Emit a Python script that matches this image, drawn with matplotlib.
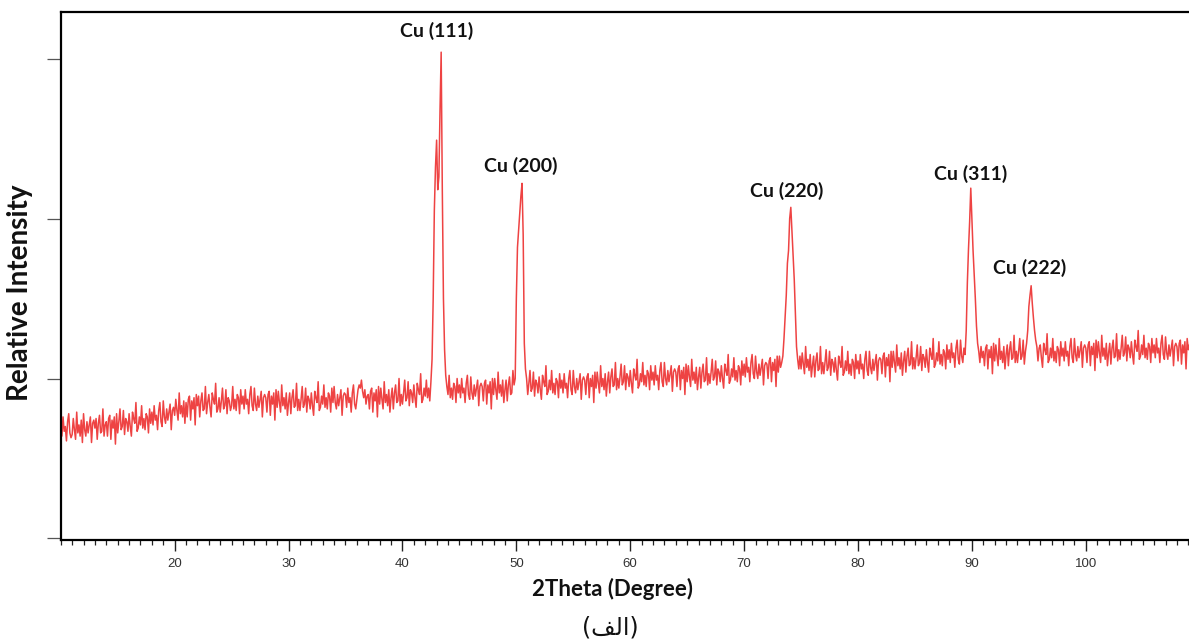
"""XRD pattern of the Cu coating (figure "alef"), redrawn from the published plot."""
import matplotlib
matplotlib.use("Agg")
import matplotlib.pyplot as plt
from matplotlib.ticker import MultipleLocator
import numpy as np

# Scan grid: 2theta from 10 deg in 0.1 deg steps (one row below = one degree).
SCAN_START = 10.0
SCAN_STEP = 0.1

# Intensity (arbitrary units), 10-29.9 deg
counts_10_30 = [
    72, 64, 76, 67, 70, 61, 73, 78, 66, 63,
    65, 75, 68, 62, 79, 66, 71, 64, 74, 60,
    78, 68, 64, 73, 66, 71, 76, 60, 72, 74,
    69, 75, 62, 72, 77, 66, 67, 81, 64, 71,
    73, 64, 75, 77, 62, 74, 69, 76, 59, 78,
    66, 73, 81, 68, 70, 80, 65, 75, 73, 67,
    78, 70, 64, 79, 75, 72, 85, 67, 69, 76,
    71, 83, 69, 75, 68, 78, 76, 66, 81, 72,
    79, 71, 83, 74, 77, 68, 80, 85, 73, 70,
    86, 76, 72, 81, 74, 79, 84, 68, 80, 82,
    77, 87, 80, 74, 91, 78, 83, 76, 86, 72,
    85, 76, 87, 89, 74, 86, 81, 88, 71, 90,
    83, 89, 76, 86, 91, 80, 81, 95, 78, 85,
    90, 82, 76, 91, 87, 84, 97, 79, 81, 88,
    79, 86, 94, 81, 83, 93, 78, 88, 86, 80,
    83, 95, 81, 87, 80, 90, 88, 78, 93, 84,
    89, 81, 93, 84, 87, 78, 90, 95, 83, 80,
    94, 84, 80, 89, 82, 87, 92, 76, 88, 90,
    88, 79, 90, 92, 77, 89, 84, 91, 74, 93,
    82, 92, 85, 79, 96, 83, 88, 81, 91, 77,
]
# 30-49.9 deg (Cu 111 at ~43.4)
counts_30_50 = [
    85, 91, 78, 88, 93, 82, 83, 97, 80, 87,
    80, 87, 95, 82, 84, 94, 79, 89, 87, 81,
    91, 83, 77, 92, 88, 85, 98, 80, 82, 89,
    84, 96, 82, 88, 81, 91, 89, 79, 94, 85,
    95, 85, 81, 90, 83, 88, 93, 77, 89, 91,
    90, 82, 94, 85, 88, 79, 91, 96, 84, 81,
    87, 93, 96, 94, 99, 92, 88, 93, 84, 89,
    90, 81, 92, 94, 79, 91, 86, 93, 76, 95,
    84, 94, 87, 81, 98, 85, 90, 83, 93, 79,
    88, 94, 81, 91, 96, 85, 86, 100, 83, 90,
    84, 91, 99, 86, 88, 98, 83, 93, 91, 85,
    96, 88, 82, 97, 93, 90, 103, 85, 87, 94,
    89, 99, 88, 94, 86, 98, 112, 150, 205, 232,
    249, 218, 226, 268, 304, 218, 150, 118, 102, 95,
    90, 102, 88, 94, 87, 97, 95, 85, 100, 91,
    96, 88, 100, 91, 94, 85, 97, 102, 90, 87,
    101, 91, 87, 96, 89, 94, 99, 83, 95, 97,
    95, 86, 97, 99, 84, 96, 91, 98, 81, 100,
    90, 100, 93, 87, 104, 91, 96, 89, 99, 85,
    93, 99, 86, 96, 101, 90, 91, 105, 96, 100,
]
# 50-69.9 deg (Cu 200 at ~50.5)
counts_50_70 = [
    150, 182, 193, 203, 214, 222, 190, 122, 106, 100,
    90, 97, 105, 92, 94, 104, 89, 99, 97, 91,
    101, 93, 87, 102, 98, 95, 108, 90, 92, 99,
    93, 105, 91, 97, 90, 100, 98, 88, 103, 94,
    99, 91, 103, 94, 97, 88, 100, 105, 93, 90,
    105, 95, 91, 100, 93, 98, 103, 87, 99, 101,
    99, 90, 101, 103, 88, 100, 95, 102, 85, 104,
    94, 104, 97, 91, 108, 95, 100, 93, 103, 89,
    98, 104, 91, 101, 106, 95, 96, 110, 93, 100,
    94, 101, 109, 96, 98, 108, 93, 103, 101, 95,
    105, 97, 91, 106, 102, 99, 112, 94, 96, 103,
    98, 110, 96, 102, 95, 105, 103, 93, 108, 99,
    104, 96, 108, 99, 102, 93, 105, 110, 98, 95,
    110, 100, 96, 105, 98, 103, 108, 92, 104, 106,
    104, 95, 106, 108, 93, 105, 100, 107, 90, 109,
    98, 108, 101, 95, 112, 99, 104, 97, 107, 93,
    101, 107, 94, 104, 109, 98, 99, 113, 96, 103,
    97, 104, 112, 99, 101, 111, 96, 106, 104, 98,
    108, 100, 94, 109, 105, 102, 115, 97, 99, 106,
    101, 113, 99, 105, 98, 108, 106, 96, 111, 102,
]
# 70-89.9 deg (Cu 220 at ~74.1, Cu 311 at ~89.9)
counts_70_90 = [
    109, 101, 113, 104, 107, 98, 110, 115, 103, 100,
    114, 104, 100, 109, 102, 107, 112, 96, 108, 110,
    109, 100, 111, 113, 98, 110, 105, 112, 95, 114,
    104, 114, 107, 110, 114, 125, 138, 152, 172, 180,
    200, 207, 192, 176, 162, 140, 120, 112, 106, 114,
    106, 116, 109, 103, 120, 107, 112, 105, 115, 101,
    108, 114, 101, 111, 116, 105, 106, 120, 103, 110,
    103, 110, 118, 105, 107, 117, 102, 112, 110, 104,
    113, 105, 99, 114, 110, 107, 120, 102, 104, 111,
    105, 117, 103, 109, 102, 112, 110, 100, 115, 106,
    111, 103, 115, 106, 109, 100, 112, 117, 105, 102,
    117, 107, 103, 112, 105, 110, 115, 99, 111, 113,
    112, 103, 114, 116, 101, 113, 108, 115, 98, 117,
    107, 117, 110, 104, 121, 108, 113, 106, 116, 102,
    111, 117, 104, 114, 119, 108, 109, 123, 106, 113,
    106, 113, 121, 108, 110, 120, 105, 115, 113, 107,
    118, 110, 104, 119, 115, 112, 125, 107, 109, 116,
    111, 123, 109, 115, 108, 118, 116, 106, 121, 112,
    118, 110, 122, 113, 116, 107, 119, 124, 112, 109,
    124, 114, 110, 119, 115, 130, 160, 181, 198, 219,
]
# 90-109.1 deg (Cu 222 at ~95.2)
counts_90_110 = [
    200, 180, 165, 150, 133, 122, 117, 110, 120, 113,
    117, 108, 119, 121, 106, 118, 113, 120, 103, 122,
    111, 121, 114, 108, 125, 112, 117, 110, 120, 106,
    115, 121, 108, 118, 123, 112, 113, 127, 110, 117,
    110, 117, 125, 112, 114, 124, 109, 117, 122, 130,
    145, 152, 158, 147, 138, 130, 124, 120, 111, 119,
    121, 113, 107, 122, 118, 115, 128, 110, 112, 119,
    113, 125, 111, 117, 110, 120, 118, 108, 123, 114,
    119, 111, 123, 114, 117, 108, 120, 125, 113, 110,
    125, 115, 111, 120, 113, 118, 123, 107, 119, 121,
    119, 110, 121, 123, 108, 120, 115, 122, 105, 124,
    113, 123, 116, 110, 127, 114, 119, 112, 122, 108,
    116, 122, 109, 119, 124, 113, 114, 128, 111, 118,
    112, 119, 127, 114, 116, 126, 111, 121, 119, 113,
    123, 115, 109, 124, 120, 117, 130, 112, 114, 121,
    115, 127, 113, 119, 112, 122, 120, 110, 125, 116,
    121, 113, 125, 116, 119, 110, 122, 127, 115, 112,
    126, 116, 112, 121, 114, 119, 124, 108, 120, 122,
    120, 111, 122, 124, 109, 121, 116, 123, 106, 125,
    118, 121,
]

# Reflection labels and where they are written (2theta, intensity)
peak_labels = ["Cu (111)", "Cu (200)", "Cu (220)", "Cu (311)", "Cu (222)"]
label_x = [43.0, 50.35, 73.7, 89.9, 95.1]
label_y = [317, 233, 217, 228, 169]

x_major = [20, 30, 40, 50, 60, 70, 80, 90, 100]
y_major = [0, 100, 200, 300]

# "(الف)" = panel (a); Arabic written in visual order with contextual forms
# (feh final, lam initial, alef isolated) since matplotlib has no shaping.
PANEL_CAPTION = "(\ufed2\ufedf\ufe8d)"

LINE_COLOR = "#ee4343"


def main() -> None:
    intensity = np.array(counts_10_30 + counts_30_50 + counts_50_70
                         + counts_70_90 + counts_90_110, dtype=float)
    two_theta = SCAN_START + SCAN_STEP * np.arange(len(intensity))

    fig = plt.figure(figsize=(11.89, 6.40), dpi=100)
    ax = fig.add_axes([0.0511, 0.15625, 0.9489, 0.825])
    ax.plot(two_theta, intensity, color=LINE_COLOR, linewidth=1.1)

    for lab, lx, ly in zip(peak_labels, label_x, label_y):
        ax.text(lx, ly, lab, ha="center", va="center", fontsize=14,
                fontweight="bold", family="Lato", color="#111111")

    ax.set_xlim(10, 109.06)
    ax.set_ylim(-0.94, 329.1)

    ax.set_xticks(x_major)
    ax.xaxis.set_minor_locator(MultipleLocator(1))
    ax.tick_params(axis="x", which="major", direction="out", length=8,
                   width=1.0, color="#222222", labelsize=9.5,
                   labelcolor="#333333", pad=5)
    ax.tick_params(axis="x", which="minor", direction="out", length=3.6,
                   width=0.9, color="#222222")
    for t in ax.get_xticklabels():
        t.set_family("Liberation Sans")

    ax.set_yticks(y_major)
    ax.set_yticklabels([])
    ax.tick_params(axis="y", which="major", direction="out", length=10,
                   width=0.9, color="#555555")

    for side in ("left", "bottom", "top"):
        ax.spines[side].set_linewidth(1.6)
        ax.spines[side].set_color("black")
    ax.spines["right"].set_visible(False)

    ax.set_xlabel("2Theta (Degree)", fontsize=16, fontweight="bold",
                  family="Lato", color="#111111")
    ax.xaxis.set_label_coords(0.489, -0.072)
    ax.set_ylabel("Relative Intensity", fontsize=20, fontweight="bold",
                  family="Lato", color="#111111")
    ax.yaxis.set_label_coords(-0.0246, 0.468)

    fig.text(0.513, 0.02, PANEL_CAPTION, ha="center", va="center",
             fontsize=17, family="DejaVu Sans", color="#111111")

    fig.savefig("out.png", dpi=100)
    plt.close(fig)


if __name__ == "__main__":
    main()
